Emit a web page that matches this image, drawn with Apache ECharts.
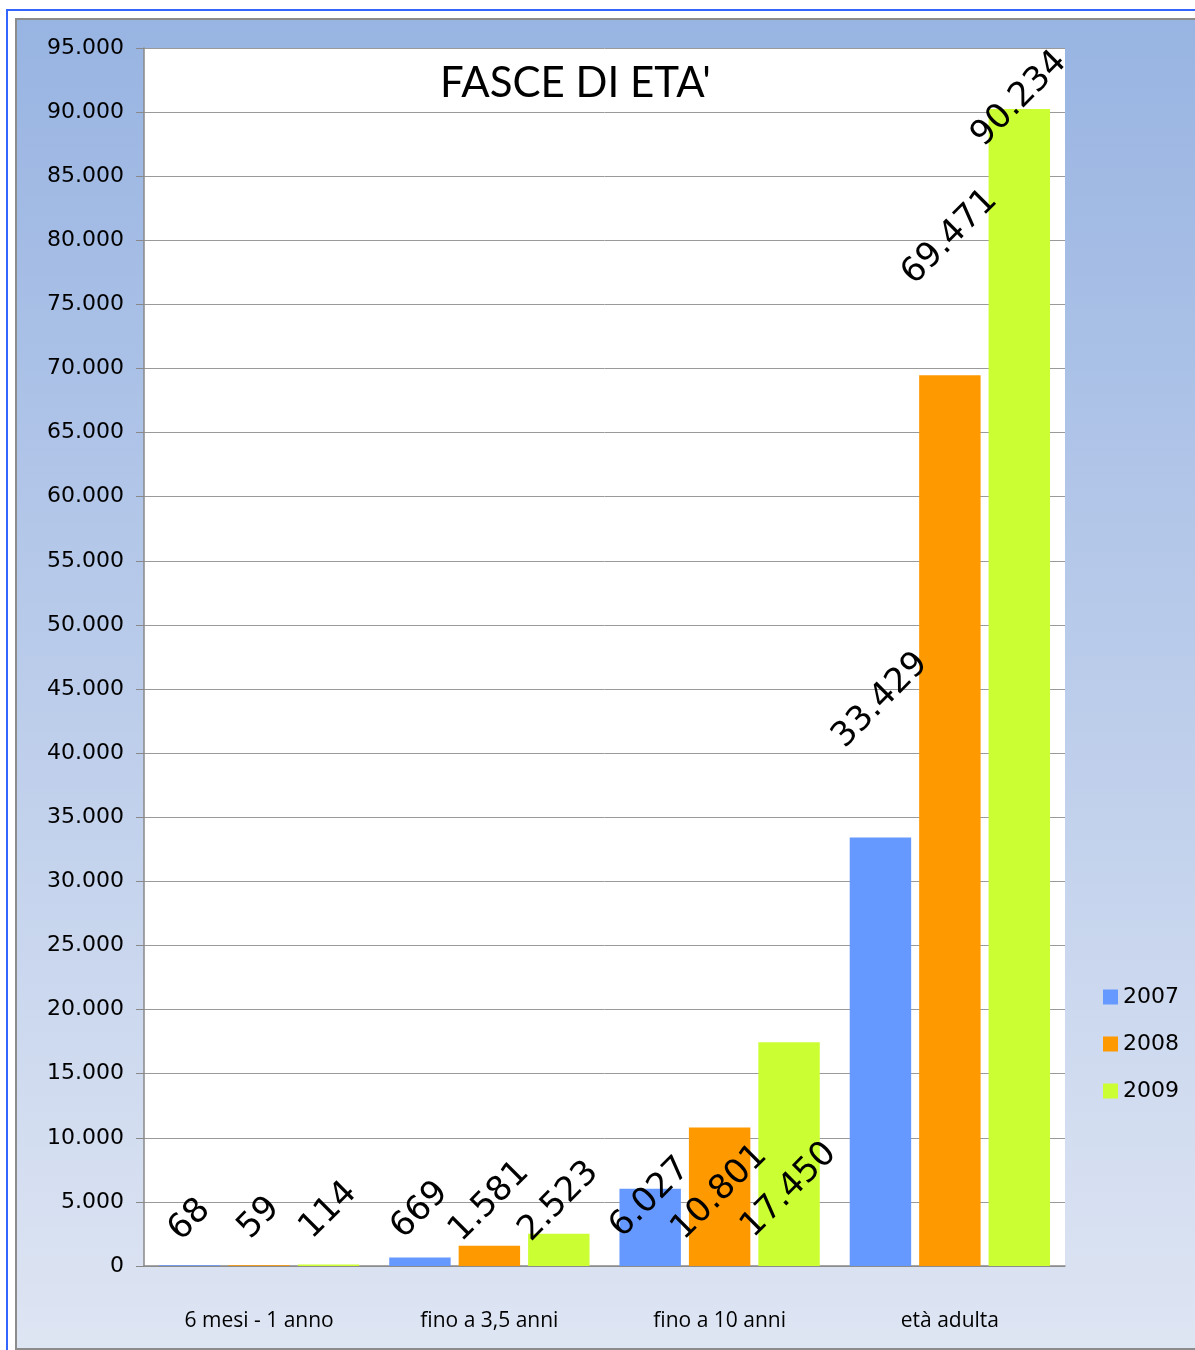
<!DOCTYPE html>
<html style="height: 100%">
<head>
    <meta charset="utf-8">
</head>
<body style="height: 100%; margin: 0; background: #fff">
    <div id="container" style="width: 1195px; height: 1350px"></div>
    <script type="text/javascript" src="https://cdn.jsdelivr.net/npm/echarts@6/dist/echarts.min.js"></script>
    <script type="text/javascript">
        // dati
        var categories = ['6 mesi - 1 anno', 'fino a 3,5 anni', 'fino a 10 anni', 'età adulta'];
        var years = ['2007', '2008', '2009'];
        var values2007 = [68, 669, 6027, 33429];
        var values2008 = [59, 1581, 10801, 69471];
        var values2009 = [114, 2523, 17450, 90234];
        var colors = ['#6699ff', '#ff9900', '#ccff33'];

        // spostamento etichette (px sopra la cima della barra), come nel foglio excel
        var labelLift2007 = [45, 47, -9, 137];
        var labelLift2008 = [47, 44, -65, 138];
        var labelLift2009 = [54, 32, -148, 10];

        var dom = document.getElementById("container");
        var myChart = echarts.init(dom);

        // 95000 -> "95.000"
        function fmt(v) {
            return String(v).replace(/\B(?=(\d{3})+(?!\d))/g, '.');
        }

        function makeSeries(name, values, lifts, color) {
            var data = values.map(function (v, i) {
                // l'offset vale nel sistema ruotato di 45°, quindi lo ruoto al contrario
                var d = lifts[i] / Math.SQRT2;
                return { value: v, label: { offset: [d, -d] } };
            });
            return {
                name: name,
                type: 'bar',
                data: data,
                barGap: '13%',
                barCategoryGap: '13%',
                itemStyle: { color: color },
                label: {
                    show: true,
                    position: 'top',
                    distance: 0,
                    rotate: 45,
                    align: 'center',
                    verticalAlign: 'middle',
                    color: '#000',
                    fontFamily: 'DejaVu Sans',
                    fontSize: 34,
                    formatter: function (p) { return fmt(p.value); }
                }
            };
        }

        var option = {
            backgroundColor: '#fff',
            animation: false,
            graphic: [{
                type: 'rect',
                z: -100,
                shape: { x: 7, y: 10, width: 1300, height: 1400 },
                style: { fill: '#fff', stroke: '#3366ff', lineWidth: 2 }
            }, {
                type: 'rect',
                z: -90,
                shape: { x: 16, y: 19, width: 1300, height: 1330 },
                style: {
                    fill: new echarts.graphic.LinearGradient(0, 0, 0, 1, [
                        { offset: 0, color: '#98b4e2' },
                        { offset: 1, color: '#dee5f3' }
                    ]),
                    stroke: '#8c8c8c',
                    lineWidth: 2
                }
            }],
            title: {
                text: "FASCE DI ETA'",
                left: 435,
                top: 57,
                textStyle: {
                    color: '#000',
                    fontFamily: 'Lato',
                    fontWeight: 'normal',
                    fontSize: 42
                }
            },
            legend: {
                orient: 'vertical',
                left: 1098,
                top: 981,
                itemWidth: 15,
                itemHeight: 15,
                itemGap: 25,
                icon: 'rect',
                data: years,
                textStyle: { color: '#000', fontFamily: 'DejaVu Sans', fontSize: 22 }
            },
            grid: {
                left: 144,
                right: 130,
                top: 48,
                bottom: 84,
                show: true,
                backgroundColor: '#fff',
                borderWidth: 0
            },
            xAxis: {
                type: 'category',
                data: categories,
                axisTick: { show: false },
                axisLine: { lineStyle: { color: '#888', width: 1.5 } },
                axisLabel: {
                    margin: 45,
                    color: '#000',
                    fontFamily: 'Open Sans',
                    fontSize: 21
                }
            },
            yAxis: {
                type: 'value',
                min: 0,
                max: 95000,
                interval: 5000,
                axisLine: { show: true, lineStyle: { color: '#888', width: 1.5 } },
                axisTick: { show: true, length: 8, lineStyle: { color: '#888' } },
                splitLine: { lineStyle: { color: '#9a9a9a', width: 1 } },
                axisLabel: {
                    margin: 20,
                    color: '#000',
                    fontFamily: 'DejaVu Sans',
                    fontSize: 22,
                    padding: [14, 0, 0, 0],
                    formatter: fmt
                }
            },
            series: [
                makeSeries(years[0], values2007, labelLift2007, colors[0]),
                makeSeries(years[1], values2008, labelLift2008, colors[1]),
                makeSeries(years[2], values2009, labelLift2009, colors[2])
            ]
        };

        myChart.setOption(option, true);
    </script>
</body>
</html>
